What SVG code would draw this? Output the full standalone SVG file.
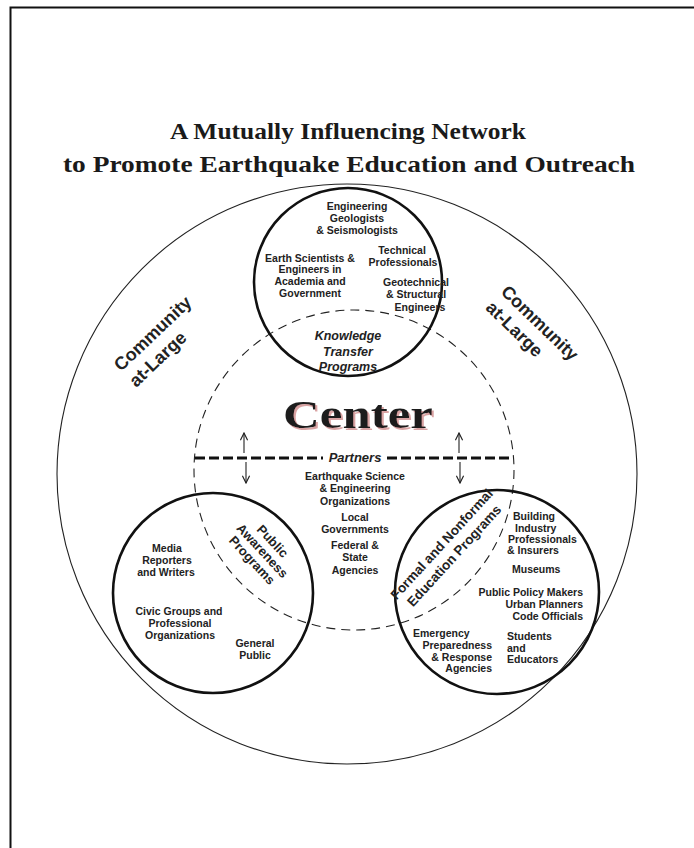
<svg xmlns="http://www.w3.org/2000/svg" width="694" height="848" viewBox="0 0 694 848">
  <defs>
    <style>
      .frame { stroke: #111; stroke-width: 2; fill: none; }
      .title { font-family: "Liberation Serif", serif; font-weight: bold; font-size: 24px; fill: #1a1a1a; text-anchor: middle; }
      .ring { fill: none; stroke: #222; stroke-width: 1.1; }
      .node { fill: none; stroke: #111; stroke-width: 2.6; }
      .dash { fill: none; stroke: #222; stroke-width: 1.1; stroke-dasharray: 9 6; }
      .partners-line { stroke: #111; stroke-width: 3; stroke-dasharray: 10 4; }
      .t { font-family: "Liberation Sans", Arial, sans-serif; font-weight: bold; font-size: 10.5px; fill: #222; }
      .m { text-anchor: middle; }
      .e { text-anchor: end; }
      .lab { font-family: "Liberation Sans", Arial, sans-serif; font-weight: bold; font-size: 13px; fill: #222; text-anchor: middle; }
      .it { font-style: italic; }
      .comm { font-family: "Liberation Sans", Arial, sans-serif; font-weight: bold; font-size: 18px; fill: #222; }
      .big { font-family: "Liberation Serif", serif; font-weight: bold; font-size: 40px; text-anchor: middle; fill: #1e1e1e; }
      .arrow { stroke: #222; stroke-width: 1.1; fill: none; marker-end: url(#head); }
    </style>
    <marker id="head" viewBox="0 0 10 10" refX="9" refY="5" markerWidth="9" markerHeight="9" markerUnits="userSpaceOnUse" orient="auto">
      <path d="M1,1 L9,5 L1,9" fill="none" stroke="#222" stroke-width="1.3"/>
    </marker>
    <!-- soft red offset shadow behind the big heading word -->
    <filter id="shadow" x="-10%" y="-20%" width="125%" height="150%">
      <feOffset in="SourceAlpha" dx="2" dy="2" result="off"/>
      <feFlood flood-color="#d9a3a3"/>
      <feComposite in2="off" operator="in" result="tint"/>
      <feMerge>
        <feMergeNode in="tint"/>
        <feMergeNode in="SourceGraphic"/>
      </feMerge>
    </filter>
  </defs>

  <rect width="694" height="848" fill="#fff"/>

  <!-- page frame (top and left edges) -->
  <path class="frame" d="M10.5,848 V7.5 H694"/>

  <!-- heading -->
  <g id="title">
    <text class="title" x="348" y="139" textLength="356" lengthAdjust="spacingAndGlyphs">A Mutually Influencing Network</text>
    <text class="title" x="349" y="172" textLength="572" lengthAdjust="spacingAndGlyphs">to Promote Earthquake Education and Outreach</text>
  </g>

  <!-- community at large: the enclosing ring -->
  <g id="community">
    <circle class="ring" cx="347" cy="474" r="290"/>
    <g transform="translate(121,372) rotate(-43.5)">
      <text class="comm" x="0" y="0">Community</text>
      <text class="comm" x="0" y="22">at-Large</text>
    </g>
    <g transform="translate(500,293) rotate(44)">
      <text class="comm" x="0" y="0">Community</text>
      <text class="comm" x="0" y="22">at-Large</text>
    </g>
  </g>

  <!-- the center with its partners -->
  <g id="center">
    <circle class="dash" cx="354" cy="470" r="160"/>
    <text class="big" x="358" y="428" filter="url(#shadow)" textLength="150" lengthAdjust="spacingAndGlyphs">Center</text>
    <line class="partners-line" x1="195" y1="458" x2="323" y2="458"/>
    <line class="partners-line" x1="387" y1="458" x2="513" y2="458"/>
    <text class="lab it" x="355" y="462">Partners</text>
    <text class="t m" x="355" y="480">Earthquake Science</text>
    <text class="t m" x="355" y="492">&amp; Engineering</text>
    <text class="t m" x="355" y="505">Organizations</text>
    <text class="t m" x="355" y="521">Local</text>
    <text class="t m" x="355" y="533">Governments</text>
    <text class="t m" x="355" y="549">Federal &amp;</text>
    <text class="t m" x="355" y="561">State</text>
    <text class="t m" x="355" y="574">Agencies</text>
  </g>

  <!-- knowledge transfer programs -->
  <g id="knowledge-transfer">
    <circle class="node" cx="348" cy="282" r="94"/>
    <text class="t m" x="357" y="210">Engineering</text>
    <text class="t m" x="357" y="222">Geologists</text>
    <text class="t m" x="357" y="234">&amp; Seismologists</text>
    <text class="t m" x="310" y="262">Earth Scientists &amp;</text>
    <text class="t m" x="310" y="273">Engineers in</text>
    <text class="t m" x="310" y="285">Academia and</text>
    <text class="t m" x="310" y="297">Government</text>
    <text class="t m" x="402" y="254">Technical</text>
    <text class="t m" x="403" y="266">Professionals</text>
    <text class="t m" x="416" y="286">Geotechnical</text>
    <text class="t m" x="416" y="298">&amp; Structural</text>
    <text class="t m" x="420" y="311">Engineers</text>
    <text class="lab it" x="348" y="340" style="font-size:12.5px">Knowledge</text>
    <text class="lab it" x="348" y="356" style="font-size:12.5px">Transfer</text>
    <text class="lab it" x="348" y="371" style="font-size:12.5px">Programs</text>
  </g>

  <!-- public awareness programs -->
  <g id="public-awareness">
    <circle class="node" cx="213" cy="593" r="100"/>
    <g transform="translate(262,551) rotate(47)">
      <text class="lab" x="0" y="-10">Public</text>
      <text class="lab" x="0" y="4">Awareness</text>
      <text class="lab" x="0" y="18">Programs</text>
    </g>
    <text class="t m" x="167" y="552">Media</text>
    <text class="t m" x="167" y="564">Reporters</text>
    <text class="t m" x="166" y="576">and Writers</text>
    <text class="t m" x="179" y="615">Civic Groups and</text>
    <text class="t m" x="180" y="627">Professional</text>
    <text class="t m" x="180" y="639">Organizations</text>
    <text class="t m" x="255" y="647">General</text>
    <text class="t m" x="255" y="659">Public</text>
  </g>

  <!-- formal and nonformal education programs -->
  <g id="education">
    <circle class="node" cx="497" cy="592" r="102"/>
    <g transform="translate(448,550) rotate(-47.5)">
      <text class="lab" x="0" y="-4" style="font-size:13.5px">Formal and Nonformal</text>
      <text class="lab" x="0" y="13" style="font-size:13.5px">Education Programs</text>
    </g>
    <text class="t" x="513" y="520">Building</text>
    <text class="t" x="515" y="532">Industry</text>
    <text class="t" x="508" y="543">Professionals</text>
    <text class="t" x="507" y="554">&amp; Insurers</text>
    <text class="t" x="512" y="573">Museums</text>
    <text class="t e" x="583" y="596">Public Policy Makers</text>
    <text class="t e" x="583" y="608">Urban Planners</text>
    <text class="t e" x="583" y="620">Code Officials</text>
    <text class="t" x="413" y="637">Emergency</text>
    <text class="t e" x="492" y="649">Preparedness</text>
    <text class="t e" x="492" y="661">&amp; Response</text>
    <text class="t e" x="492" y="672">Agencies</text>
    <text class="t" x="507" y="640">Students</text>
    <text class="t" x="507" y="652">and</text>
    <text class="t" x="507" y="663">Educators</text>
  </g>

  <!-- influence arrows between the center and the program circles -->
  <g id="connectors">
    <line class="arrow" x1="244" y1="453" x2="244" y2="433"/>
    <line class="arrow" x1="459" y1="453" x2="459" y2="433"/>
    <line class="arrow" x1="246" y1="462" x2="246" y2="483"/>
    <line class="arrow" x1="460" y1="462" x2="460" y2="483"/>
  </g>
</svg>
